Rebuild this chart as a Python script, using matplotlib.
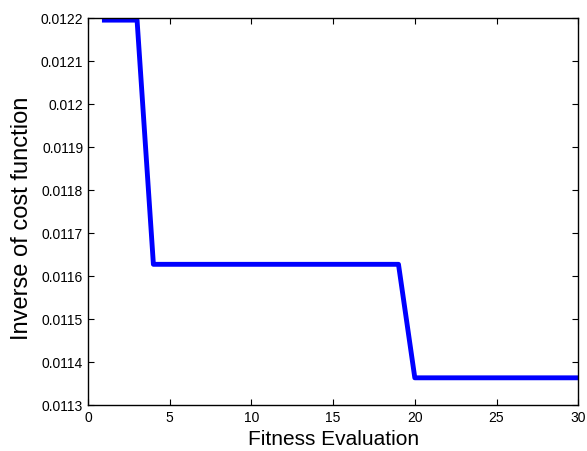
import numpy as np
import matplotlib.pyplot as plt
from matplotlib.ticker import FuncFormatter

plt.rcParams['font.family'] = ['Liberation Sans', 'DejaVu Sans']

evals = list(range(1, 31))
cost_inv = [0.012195] * 3 + [0.011627] * 16 + [0.011363] * 11

fig = plt.figure(figsize=(5.87, 4.52), dpi=100)
ax = fig.add_axes([0.15, 0.102, 0.835, 0.856])
ax.plot(evals, cost_inv, color='#0000ff', linewidth=3.5)
ax.set_xlim(0, 30)
ax.set_ylim(0.0113, 0.0122)
ax.set_xticks(np.arange(0, 31, 5))
ax.set_yticks(np.linspace(0.0113, 0.0122, 10))
ax.yaxis.set_major_formatter(FuncFormatter(lambda v, p: '%g' % round(v, 6)))
ax.tick_params(direction='in', top=True, right=True, labelsize=10, length=4)
for s in ax.spines.values():
    s.set_linewidth(1.0)
ax.set_xlabel('Fitness Evaluation', fontsize=15, labelpad=4)
ax.set_ylabel('Inverse of cost function', fontsize=17)
ax.yaxis.set_label_coords(-0.113, 0.485)
fig.savefig('out.png', dpi=100)
